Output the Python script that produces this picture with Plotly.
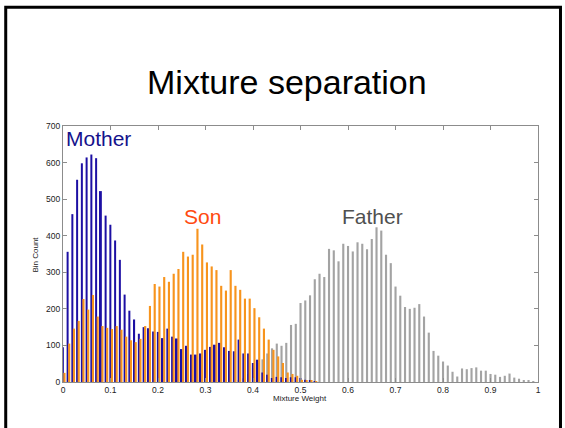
import plotly.graph_objects as go

# Bin centres (mixture weight), bin width 0.01
bins = [round(i * 0.01, 2) for i in range(101)]

mother = [95, 356, 459, 553, 598, 614, 622, 612, 522, 455,
          430, 387, 334, 239, 195, 171, 132, 150, 147, 138,
          137, 120, 146, 124, 119, 90, 99, 75, 75, 78,
          88, 96, 102, 107, 95, 85, 84, 116, 78, 78,
          52, 61, 26, 20, 11, 14, 13, 11, 13, 13,
          11, 6, 3, 1, 0, 0, 0, 0, 0, 0,
          0, 0, 0, 0, 0, 0, 0, 0, 0, 0,
          0, 0, 0, 0, 0, 0, 0, 0, 0, 0,
          0, 0, 0, 0, 0, 0, 0, 0, 0, 0,
          0, 0, 0, 0, 0, 0, 0, 0, 0, 0, 0]

son = [25, 105, 146, 167, 227, 198, 238, 179, 153, 148,
       145, 153, 143, 124, 114, 109, 118, 153, 208, 268,
       261, 287, 274, 296, 309, 356, 343, 348, 419, 376,
       327, 316, 306, 263, 250, 306, 263, 252, 228, 228,
       202, 177, 146, 116, 88, 70, 52, 26, 22, 17,
       6, 4, 3, 1, 0, 0, 0, 0, 0, 0,
       0, 0, 0, 0, 0, 0, 0, 0, 0, 0,
       0, 0, 0, 0, 0, 0, 0, 0, 0, 0,
       0, 0, 0, 0, 0, 0, 0, 0, 0, 0,
       0, 0, 0, 0, 0, 0, 0, 0, 0, 0, 0]

father = [0, 0, 0, 0, 0, 0, 0, 0, 0, 0,
          0, 0, 0, 0, 0, 0, 0, 0, 0, 0,
          0, 0, 0, 0, 0, 0, 0, 0, 0, 0,
          0, 0, 0, 0, 0, 1, 2, 4, 10, 22,
          38, 52, 62, 78, 92, 105, 99, 107, 156, 159,
          216, 223, 237, 281, 296, 287, 364, 360, 330, 378,
          372, 357, 382, 378, 363, 391, 423, 414, 348, 325,
          261, 236, 205, 200, 203, 213, 179, 135, 85, 72,
          56, 45, 28, 15, 37, 35, 38, 40, 31, 31,
          22, 20, 14, 17, 23, 12, 9, 4, 4, 2, 0]

x_ticks = [0, 0.1, 0.2, 0.3, 0.4, 0.5, 0.6, 0.7, 0.8, 0.9, 1]
x_tick_text = ["0", "0.1", "0.2", "0.3", "0.4", "0.5", "0.6", "0.7", "0.8", "0.9", "1"]
y_ticks = [0, 100, 200, 300, 400, 500, 600, 700]

FONT = "Liberation Sans, Arial, sans-serif"

fig = go.Figure()
fig.add_trace(go.Bar(x=bins, y=father, width=0.0045, offset=-0.0022,
                     marker=dict(color="#a3a3a3", line=dict(width=0)), name="Father"))
fig.add_trace(go.Bar(x=bins, y=mother, width=0.0042, offset=-0.0024,
                     marker=dict(color="#1c0fa3", line=dict(width=0)), name="Mother"))
fig.add_trace(go.Bar(x=bins, y=son, width=0.0045, offset=0.0008,
                     marker=dict(color="#f7941d", line=dict(width=0)), name="Son"))

L, R, T, B = 63.3, 538.5, 126.0, 382.3
W, H = 565, 428
pw, ph = R - L, B - T

def px(x):
    return (x - L) / pw

def py(y):
    return (B - y) / ph

axis_common = dict(showline=True, linecolor="#8c8c8c", linewidth=1, mirror="ticks",
                   ticks="inside", ticklen=4, tickcolor="#8c8c8c", showgrid=False,
                   zeroline=False, tickfont=dict(family=FONT, size=8.5, color="#222222"))

fig.update_layout(
    width=W, height=H,
    margin=dict(l=L, r=W - R, t=T, b=H - B),
    paper_bgcolor="white", plot_bgcolor="white",
    barmode="overlay", showlegend=False,
    xaxis=dict(range=[0, 1], tickvals=x_ticks, ticktext=x_tick_text, **axis_common),
    yaxis=dict(range=[0, 700], tickvals=y_ticks, **axis_common),
    shapes=[dict(type="rect", xref="paper", yref="paper",
                 x0=px(6), x1=px(561), y0=py(445), y1=py(7),
                 line=dict(color="black", width=3), fillcolor="rgba(0,0,0,0)", layer="above")],
    annotations=[
        dict(text="Mixture separation", xref="paper", yref="paper", x=px(287), y=py(82),
             showarrow=False, font=dict(family=FONT, size=34, color="black"),
             xanchor="center", yanchor="middle"),
        dict(text="Mother", xref="paper", yref="paper", x=px(64), y=py(139),
             showarrow=False, font=dict(family=FONT, size=21, color="#14128c"),
             xanchor="left", yanchor="middle"),
        dict(text="Son", xref="paper", yref="paper", x=px(203), y=py(217),
             showarrow=False, font=dict(family=FONT, size=21, color="#ff4a10"),
             xanchor="center", yanchor="middle"),
        dict(text="Father", xref="paper", yref="paper", x=px(373), y=py(217),
             showarrow=False, font=dict(family=FONT, size=21, color="#505050"),
             xanchor="center", yanchor="middle"),
        dict(text="Bin Count", xref="paper", yref="paper", x=px(36), y=py(255),
             showarrow=False, textangle=-90, font=dict(family=FONT, size=8, color="#222222"),
             xanchor="center", yanchor="middle"),
        dict(text="Mixture Weight", xref="paper", yref="paper", x=px(300), y=py(399),
             showarrow=False, font=dict(family=FONT, size=8, color="#222222"),
             xanchor="center", yanchor="middle"),
    ],
)

fig.write_html("out.html", config={"displayModeBar": False},
               post_script="document.body.style.margin='0';document.body.style.padding='0';")
